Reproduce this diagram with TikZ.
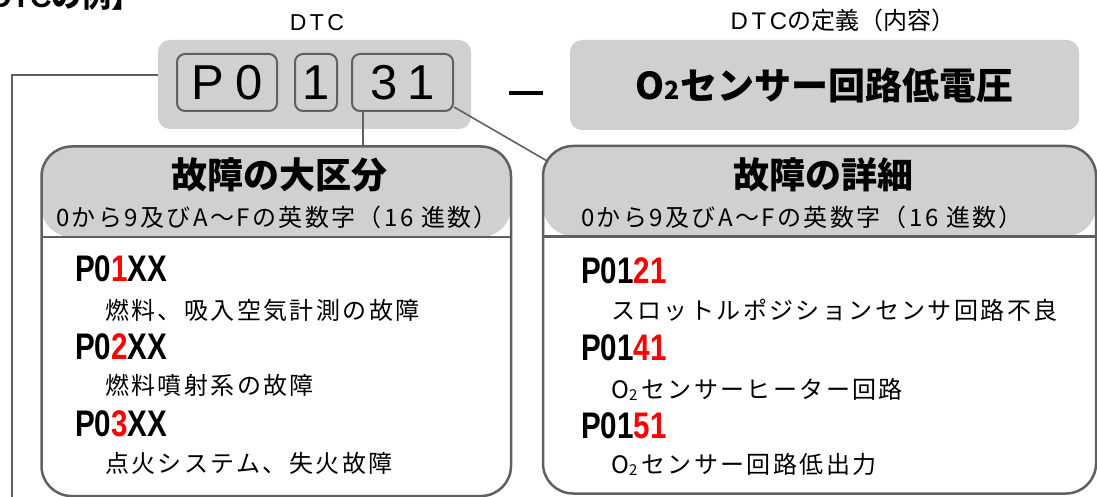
\documentclass[tikz,border=0pt]{standalone}
\usepackage{fontspec}
\setmainfont{Liberation Sans}
\newfontfamily\jpfont{Noto Sans CJK JP}
\newfontfamily\jpspfont[LetterSpace=10]{Noto Sans CJK JP}
\newfontfamily\latspfont[LetterSpace=15]{Liberation Sans}
\newfontfamily\codefont[FakeStretch=0.8]{Liberation Sans}
\definecolor{boxgray}{HTML}{D0D0D0}
\definecolor{edgegray}{HTML}{606060}
\definecolor{codered}{HTML}{FF0000}
\newcommand{\codetxt}[1]{{\codefont\bfseries\fontsize{37}{37}\selectfont #1}}
\newcommand{\redtxt}[1]{\textcolor{codered}{#1}}
\newcommand{\desctxt}{\jpspfont\fontsize{24}{24}\selectfont}
\newcommand{\subtwo}[2]{\raisebox{#2}{\fontsize{#1}{#1}\selectfont 2}}
\tikzset{
  gbox/.style={fill=boxgray, rounded corners=12pt, inner sep=0pt},
  digbox/.style={draw=edgegray, line width=2pt, rounded corners=8pt, fill=boxgray, inner sep=0pt,
    font=\fontsize{49}{49}\selectfont},
  conn/.style={draw=edgegray, line width=1.6pt},
  panel/.style={draw=edgegray, line width=2.5pt, rounded corners=30pt, fill=white, inner sep=0pt},
  entry/.style={anchor=west, inner sep=0pt},
  ptitle/.style={inner sep=0pt, font=\jpfont\bfseries\fontsize{36}{36}\selectfont},
  psub/.style={anchor=west, inner sep=0pt, font=\jpspfont\fontsize{24}{24}\selectfont},
}
\begin{document}
\begin{tikzpicture}[x=1pt, y=-1pt]
\clip (0,0) rectangle (1097,497);
\fill[white] (0,0) rectangle (1097,497);

% heading (cut off at the top)
\node[anchor=base west, inner sep=0pt] (heading) at (-40,7.5)
  {\bfseries\fontsize{30}{30}\selectfont{\jpfont 【}DTC{\jpfont の例】}};

% labels
\node[inner sep=0pt] (dtclabel) at (317,23) {\latspfont\fontsize{23}{23}\selectfont DTC};
\node[inner sep=0pt] (deflabel) at (843,20)
  {\fontsize{24}{24}\selectfont{\latspfont DTC}{\jpfont の定義（内容）}};

% DTC box
\node[gbox, minimum width=313pt, minimum height=89pt] (dtc) at (314.5,84.5) {};
\node[digbox, minimum width=100pt, minimum height=57pt] (p0) at (227,82.5) {P\hspace{12pt}0};
\node[digbox, minimum width=42pt, minimum height=57pt] (d1) at (316,82.5) {1};
\node[digbox, minimum width=101pt, minimum height=57pt] (d31) at (402.5,82.5) {3\hspace{10pt}1};

% dash
\node[inner sep=0pt] (dash) at (526,93) {\rule{34pt}{3.5pt}};

% definition box
\node[gbox, minimum width=509pt, minimum height=90pt] (defbox) at (824.5,85)
  {\jpfont\bfseries\fontsize{37}{37}\selectfont O\subtwo{25}{0pt}センサー回路低電圧};

% panels
\node[panel, minimum width=469.5pt, minimum height=349.5pt,
  path picture={
    \fill[boxgray] (path picture bounding box.north west) rectangle ([yshift=-90.5pt]path picture bounding box.north east);
    \draw[edgegray, line width=1.5pt] ([yshift=-90.5pt]path picture bounding box.north west) -- ([yshift=-90.5pt]path picture bounding box.north east);
  }] (lp) at (276.25,321.25) {};
\node[panel, minimum width=553pt, minimum height=347.5pt,
  path picture={
    \fill[boxgray] (path picture bounding box.north west) rectangle ([yshift=-90pt]path picture bounding box.north east);
    \draw[edgegray, line width=3pt] ([yshift=-90pt]path picture bounding box.north west) -- ([yshift=-90pt]path picture bounding box.north east);
  }] (rp) at (819.5,319.75) {};

% connectors
\coordinate (lcorner) at (12,75);
\coordinate (lbottom) at (12,500);
\draw[conn] (dtc.west |- lcorner) -- (lcorner) -- (lbottom);
\coordinate (d31b) at ([xshift=12pt]d31.south west);
\draw[conn] (d31b) -- (d31b |- lp.north);
\coordinate (d31r) at ([yshift=5pt]d31.south east);
\coordinate (rpc) at ([shift={(5,16)}]rp.north west);
\draw[conn] (d31r) -- (rpc);

% left panel text
\node[ptitle] (ltitle) at (279,175) {故障の大区分};
\node[psub] (lsub) at (56,217) {0から9及びA～Fの英数字（16 進数）};
\node[entry] (l1) at (75,269) {\codetxt{P0\redtxt{1}XX}};
\node[entry] (l1d) at (105,310) {\desctxt 燃料、吸入空気計測の故障};
\node[entry] (l2) at (75,347) {\codetxt{P0\redtxt{2}XX}};
\node[entry] (l2d) at (105,385) {\desctxt 燃料噴射系の故障};
\node[entry] (l3) at (75,424) {\codetxt{P0\redtxt{3}XX}};
\node[entry] (l3d) at (105,463) {\desctxt 点火システム、失火故障};

% right panel text
\node[ptitle] (rtitle) at (823,175) {故障の詳細};
\node[psub] (rsub) at (581,217) {0から9及びA～Fの英数字（16 進数）};
\node[entry] (r1) at (581,271) {\codetxt{P01\redtxt{21}}};
\node[entry] (r1d) at (611,310) {\desctxt スロットルポジションセンサ回路不良};
\node[entry] (r2) at (581,348) {\codetxt{P01\redtxt{41}}};
\node[entry] (r2d) at (611,389) {\desctxt O\subtwo{15}{-2pt}\hspace{4pt}センサーヒーター回路};
\node[entry] (r3) at (581,426) {\codetxt{P01\redtxt{51}}};
\node[entry] (r3d) at (611,464) {\desctxt O\subtwo{15}{-2pt}\hspace{4pt}センサー回路低出力};
\end{tikzpicture}
\end{document}
